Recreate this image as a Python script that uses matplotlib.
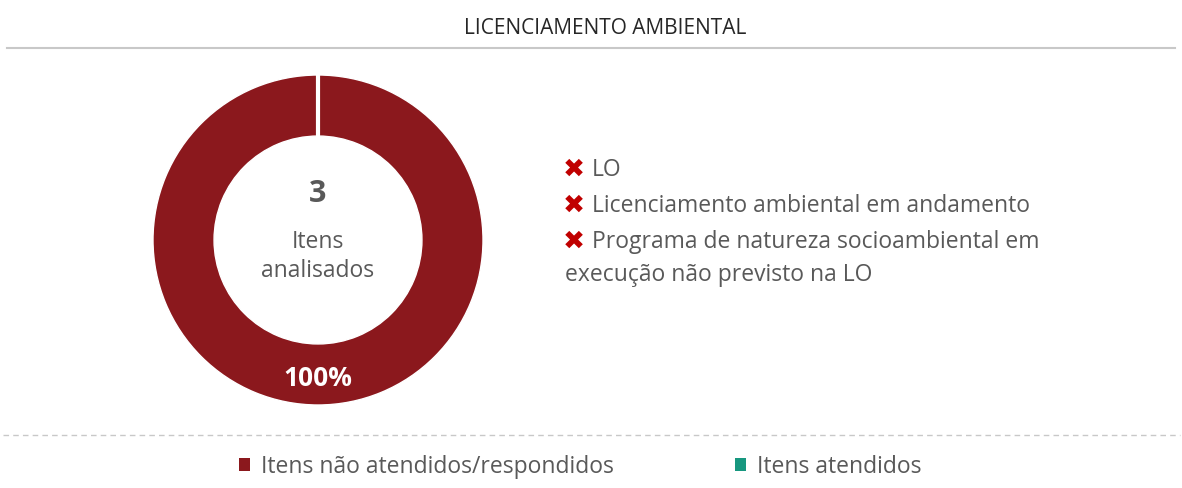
import matplotlib.pyplot as plt
from matplotlib.patches import Patch
from matplotlib.lines import Line2D

title = "LICENCIAMENTO AMBIENTAL"
categories = ["Itens não atendidos/respondidos", "Itens atendidos"]
values = [3, 0]
colors = ["#8b181d", "#17977f"]
total_label = "Itens\nanalisados"
items = [
    "LO",
    "Licenciamento ambiental em andamento",
    "Programa de natureza socioambiental em\nexecução não previsto na LO",
]

plt.rcParams["font.family"] = ["Open Sans", "DejaVu Sans"]
grey = "#595959"

fig = plt.figure(figsize=(11.82, 4.88), dpi=100)
W, H = 1182, 488

fig.text(605 / W, 1 - 28 / H, title, ha="center", va="center",
         fontsize=15, color="#262626")
fig.add_artist(Line2D([7 / W, 1175 / W], [1 - 48 / H] * 2, color="#c8c8c8", lw=1.5))
fig.add_artist(Line2D([3 / W, 1180 / W], [1 - 435 / H] * 2, color="#c8c8c8", lw=1,
                      ls=(0, (4, 3))))

# donut
ax = fig.add_axes([153 / W, 83 / H, 330 / W, 330 / H])
shown = [(v, c) for v, c in zip(values, colors) if v > 0]
total = sum(values)
ax.pie([v for v, _ in shown], colors=[c for _, c in shown], startangle=90,
       counterclock=False, radius=1.0,
       wedgeprops=dict(width=0.37, edgecolor="white", linewidth=1))
ax.set_xlim(-1, 1)
ax.set_ylim(-1, 1)
ax.set_aspect("equal")
# slice boundary at the top
ax.plot([0, 0], [0.62, 1.0], color="white", lw=3, solid_capstyle="butt")
ax.text(0, 0.28, str(total), ha="center", va="center", fontsize=22, fontweight="bold",
        color=grey)
ax.text(0, -0.1, total_label, ha="center", va="center", fontsize=16.5, color=grey,
        linespacing=1.25)
ax.text(0, -0.84, f"{values[0] / total:.0%}", ha="center", va="center", fontsize=19,
        fontweight="bold", color="white")

# item list
y = 170
for txt in items:
    lines = txt.split("\n")
    fig.text(574 / W, 1 - y / H, "✖", ha="center", va="center", fontsize=19,
             color="#c00000", family="DejaVu Sans")
    fig.text(592 / W, 1 - y / H, lines[0], ha="left", va="center",
             fontsize=16.5, color=grey)
    for extra in lines[1:]:
        y += 33
        fig.text(565 / W, 1 - y / H, extra, ha="left", va="center",
                 fontsize=16.5, color=grey)
    y += 36

handles = [Patch(facecolor=c, edgecolor="none") for c in colors]
fig.legend(handles, categories, loc="center", bbox_to_anchor=(580 / W, 1 - 467 / H),
           ncol=2, frameon=False, fontsize=16.5, labelcolor=grey, handlelength=0.5,
           handleheight=0.5, handletextpad=0.45, columnspacing=5.3)

fig.savefig("out.png", dpi=100)
